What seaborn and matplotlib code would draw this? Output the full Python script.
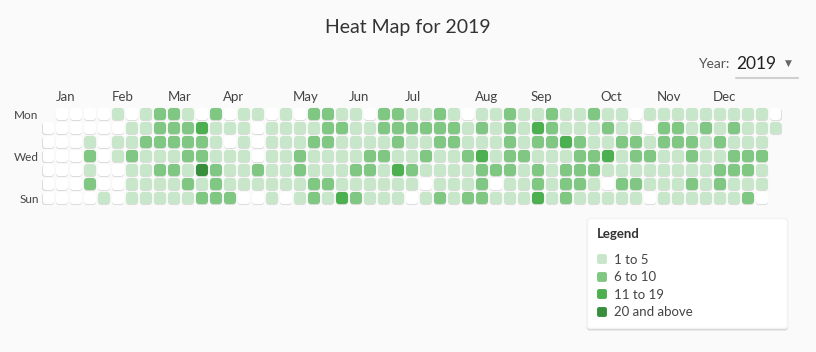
import pandas as pd
import matplotlib.pyplot as plt
import seaborn as sns
from matplotlib.lines import Line2D
from matplotlib.markers import MarkerStyle
from matplotlib.transforms import offset_copy

year = 2019
months = ["Jan", "Feb", "Mar", "Apr", "May", "Jun", "Jul", "Aug", "Sep", "Oct", "Nov", "Dec"]
day_labels = ["Mon", "Wed", "Sun"]
day_ticks = [0, 3, 6]

# level per week column: 0 = none, 1 = 1-5, 2 = 6-10, 3 = 11-19, 4 = 20+, None = not in the year
mon = [None, 0, 0, 0, 0, 1, 0, 1, 2, 2, 1, 0, 2, 0, 1, 1, 0, 1, 0, 2, 2, 1, 1, 0, 2, 2,
       1, 1, 2, 1, 0, 1, 1, 2, 1, 1, 2, 1, 1, 2, 1, 1, 0, 1, 1, 1, 1, 1, 1, 1, 1, 1, 0]
tue = [0, 0, 0, 0, 0, 0, 1, 1, 2, 2, 2, 3, 1, 1, 1, 0, 1, 1, 1, 1, 2, 2, 1, 1, 2, 2,
       2, 2, 2, 2, 1, 2, 1, 2, 1, 3, 2, 1, 1, 1, 2, 1, 1, 0, 2, 2, 1, 2, 1, 2, 1, 1, 1]
wed = [0, 0, 0, 1, 0, 1, 1, 2, 2, 2, 2, 2, 1, 0, 1, 0, 1, 1, 1, 2, 2, 1, 1, 1, 1, 2,
       1, 1, 2, 2, 1, 1, 1, 2, 1, 2, 2, 3, 2, 1, 1, 2, 2, 1, 2, 2, 2, 1, 2, 1, 1, 1, None]
thu = [0, 0, 0, 2, 0, 1, 2, 1, 1, 1, 2, 2, 1, 1, 1, 0, 1, 1, 2, 1, 1, 1, 1, 2, 2, 1,
       1, 2, 1, 1, 2, 3, 1, 2, 2, 1, 1, 1, 2, 2, 3, 1, 2, 2, 1, 1, 2, 1, 1, 2, 2, 2, None]
fri = [0, 0, 0, 1, 0, 0, 1, 1, 2, 2, 1, 4, 2, 1, 1, 2, 1, 1, 2, 1, 1, 1, 2, 2, 1, 3,
       2, 1, 1, 1, 1, 2, 2, 2, 1, 2, 1, 2, 2, 2, 1, 1, 1, 1, 1, 1, 1, 1, 2, 2, 2, 1, None]
sat = [0, 0, 0, 2, 0, 0, 1, 1, 1, 1, 2, 1, 2, 1, 1, 1, 1, 1, 1, 2, 2, 1, 1, 1, 1, 1,
       1, 0, 1, 1, 1, 2, 0, 1, 1, 2, 1, 2, 2, 1, 0, 2, 2, 1, 1, 1, 2, 1, 2, 1, 1, 1, None]
sun = [0, 0, 0, 0, 1, 0, 1, 1, 1, 1, 1, 2, 2, 2, 0, 0, 1, 0, 1, 2, 1, 3, 2, 1, 1, 1,
       0, 1, 2, 1, 2, 2, 1, 1, 1, 3, 1, 2, 1, 1, 1, 1, 1, 0, 1, 1, 1, 1, 1, 1, 2, 0, None]

legend_labels = ["1 to 5", "6 to 10", "11 to 19", "20 and above"]
colors = ["#ffffff", "#c8e6c9", "#81c784", "#4caf50", "#388e3c"]

rows = []
for d, vals in enumerate([mon, tue, wed, thu, fri, sat, sun]):
    for w, v in enumerate(vals):
        if v is not None:
            rows.append({"week": w, "day": d, "level": v})
df = pd.DataFrame(rows)

# month label goes on the week of the first monday of the month
start = pd.Timestamp(year, 1, 1)
start = start - pd.Timedelta(days=start.weekday())
month_cols = []
for m in range(1, 13):
    first = pd.Timestamp(year, m, 1)
    first_mon = first + pd.Timedelta(days=(7 - first.weekday()) % 7)
    month_cols.append((first_mon - start).days // 7)

sns.set_style("white")
plt.rcParams["font.family"] = ["Lato", "DejaVu Sans"]

fig = plt.figure(figsize=(8.16, 3.52), dpi=100, facecolor="#fafafa")
ax = fig.add_axes([41.5 / 816, (352 - 205.3) / 352, 741 / 816, 98.3 / 352])
ax.set_facecolor("none")

cell = dict(marker="s", s=18.5, linewidth=4.4, edgecolor="face", joinstyle="round", legend=False, ax=ax)
# soft shadow under each cell
sns.scatterplot(data=df, x="week", y="day", color="#dcdcdc",
                transform=offset_copy(ax.transData, fig=fig, y=-1.2, units="dots"), **cell)
sns.scatterplot(data=df, x="week", y="day", hue="level", palette=dict(enumerate(colors)), **cell)

ax.set_xlim(-0.5, 52.5)
ax.set_ylim(6.5, -0.5)
sns.despine(ax=ax, left=True, bottom=True)
ax.xaxis.set_ticks_position("top")
ax.set_xticks([c - 0.5 for c in month_cols])
ax.set_xticklabels(months, ha="left", fontsize=9.5, color="#444444")
ax.set_yticks(day_ticks)
ax.set_yticklabels(day_labels, fontsize=8.5, color="#444444")
ax.tick_params(axis="x", length=0, pad=3)
ax.tick_params(axis="y", length=0, pad=2)
ax.set_xlabel("")
ax.set_ylabel("")

fig.text(0.5, 1 - 28 / 352, f"Heat Map for {year}", ha="center", va="center", fontsize=14, color="#333333")
fig.text(698 / 816, 1 - 64 / 352, "Year:", ha="left", va="center", fontsize=10, color="#555555")
fig.text(736 / 816, 1 - 64 / 352, str(year), ha="left", va="center", fontsize=12.5, color="#222222")
fig.text(788 / 816, 1 - 63 / 352, "▼", ha="center", va="center", fontsize=6.5, color="#666666",
         family="DejaVu Sans")
fig.add_artist(Line2D([736 / 816, 798 / 816], [1 - 78 / 352] * 2, color="#d0d0d0", lw=1.5,
                      transform=fig.transFigure))

handles = [Line2D([], [], linestyle="none", marker=MarkerStyle("s", joinstyle="round"), markersize=4.4,
                  markeredgewidth=2.8, color=c) for c in colors[1:]]
leg = ax.legend(handles, legend_labels, loc="upper left", mode="expand", borderaxespad=0,
                bbox_to_anchor=(587 / 816, 24 / 352, 200 / 816, 110 / 352), bbox_transform=fig.transFigure,
                title="Legend", alignment="left", fontsize=9.5, title_fontproperties={"weight": "bold", "size": 9.5},
                handlelength=0.8, handletextpad=0.5, labelspacing=0.42, borderpad=0.75,
                frameon=True, fancybox=True, framealpha=1, facecolor="white", edgecolor="#f2f2f2",
                shadow={"color": "#c4c4c4", "alpha": 0.5, "ox": 0.3, "oy": -1.2})
for t in leg.get_texts():
    t.set_color("#444444")
leg.get_title().set_color("#333333")
leg._legend_box.sep = 10

fig.savefig("out.png", dpi=100, facecolor=fig.get_facecolor())
